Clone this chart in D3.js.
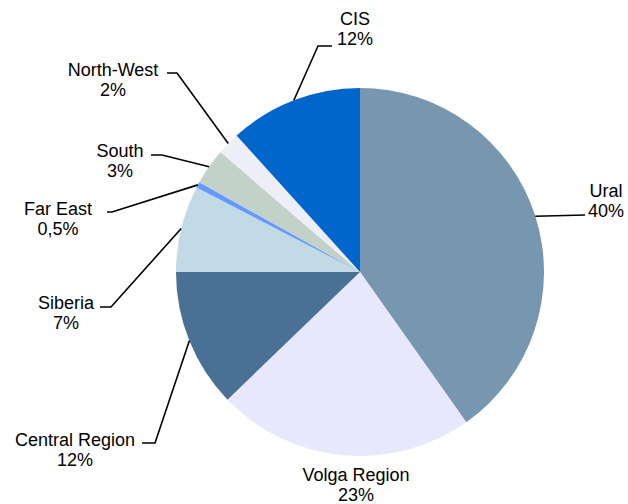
<!DOCTYPE html>
<html>
<head>
<meta charset="utf-8">
<script src="https://cdn.jsdelivr.net/npm/d3@7"></script>
<style>
  html, body { margin: 0; padding: 0; background: #fff; }
  svg { display: block; }
  text { font-family: "Liberation Sans", Arial, sans-serif; font-size: 18px; fill: #000; }
</style>
</head>
<body>
<svg id="chart" width="628" height="504"></svg>
<script>
// ---- data ----
const categories = ["Ural", "Volga Region", "Central Region", "Siberia", "Far East", "South", "North-West", "CIS"];
const values = [40.2, 22.6, 12.2, 7.6, 0.5, 3.2, 2.0, 11.7];
const valueLabels = ["40%", "23%", "12%", "7%", "0,5%", "3%", "2%", "12%"];
const colors = ["#7796AF", "#E8E8FC", "#4A7094", "#C2D9E6", "#6699FF", "#C2D2C9", "#EEEEF8", "#0066CC"];

// ---- layout (label placement, not data) ----
const cx = 360, cy = 272, R = 184;
const labelLayout = [
  { x: 606, y: 197, leader: [[585, 215]] },
  { x: 356, y: 481, leader: null },
  { x: 75,  y: 446, leader: [[142, 443], [155, 443]] },
  { x: 66,  y: 309, leader: [[100, 307], [111, 307]] },
  { x: 58,  y: 215, leader: [[107, 212], [112, 212]] },
  { x: 120, y: 157, leader: [[151, 155], [162, 155]] },
  { x: 113, y: 76,  leader: [[167, 73], [177, 73]] },
  { x: 355, y: 25,  leader: [[332, 46], [318, 46]] }
];

const data = categories.map((c, i) => ({ name: c, value: values[i], label: valueLabels[i], color: colors[i], layout: labelLayout[i] }));

const svg = d3.select("#chart");
const g = svg.append("g").attr("transform", `translate(${cx},${cy})`);

const pie = d3.pie().value(d => d.value).sort(null);
const arc = d3.arc().innerRadius(0).outerRadius(R);
const arcs = pie(data);

g.selectAll("path.slice")
  .data(arcs)
  .join("path")
  .attr("class", "slice")
  .attr("d", arc)
  .attr("fill", d => d.data.color);

// leader lines
const line = d3.line();
arcs.forEach(a => {
  const lay = a.data.layout;
  if (!lay.leader) return;
  const mid = (a.startAngle + a.endAngle) / 2;
  const edge = [cx + R * Math.sin(mid), cy - R * Math.cos(mid)];
  const pts = lay.leader.concat([edge]);
  svg.append("path")
    .attr("d", line(pts))
    .attr("fill", "none")
    .attr("stroke", "#000")
    .attr("stroke-width", 1.6);
});

// labels
arcs.forEach(a => {
  const lay = a.data.layout;
  const t = svg.append("text").attr("text-anchor", "middle");
  t.append("tspan").attr("x", lay.x).attr("y", lay.y).text(a.data.name);
  t.append("tspan").attr("x", lay.x).attr("y", lay.y + 20).text(a.data.label);
});
</script>
</body>
</html>
